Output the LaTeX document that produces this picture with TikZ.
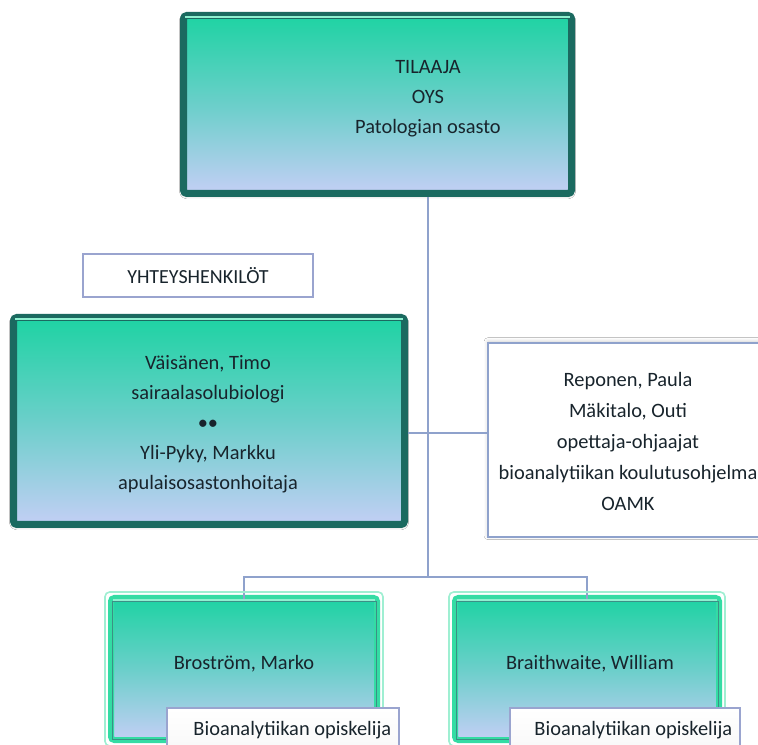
\documentclass[tikz,border=0pt]{standalone}
\usepackage{fontspec}
\setmainfont{Carlito}
\usetikzlibrary{shadows.blur}
\definecolor{frameDark}{HTML}{1B6A60}
\definecolor{gradTop}{HTML}{1ED3A3}
\definecolor{gradMid}{HTML}{6BCFCA}
\definecolor{gradBot}{HTML}{C3CFF5}
\definecolor{glowC}{HTML}{34DCA4}
\definecolor{glowSoft}{HTML}{9FEFD2}
\definecolor{lineC}{HTML}{8FA2CC}
\definecolor{lblBorder}{HTML}{9AA4CF}
\definecolor{textC}{HTML}{18242C}
\definecolor{hlC}{HTML}{8FF0D0}
\definecolor{bevelC}{HTML}{3C8F86}
\begin{document}
\begin{tikzpicture}[x=0.75pt,y=-0.75pt,
  every node/.style={font=\fontsize{15.3}{22.5}\selectfont, text=textC},
  bigbox/.style={draw=frameDark, line width=5.25pt, top color=gradTop, bottom color=gradBot, middle color=gradMid, rounded corners=2.5pt, inner sep=0pt,
     blur shadow={shadow xshift=0pt, shadow yshift=-1pt, shadow blur radius=3pt, shadow opacity=45}},
  glowbox/.style={draw=glowC, line width=4.5pt, top color=gradTop, bottom color=gradBot, middle color=gradMid, rounded corners=2.5pt, inner sep=0pt},
  glowedge/.style={draw=glowSoft, line width=1.2pt, rounded corners=3.5pt},
  whitebox/.style={draw=lineC, line width=1.5pt, fill=white, inner sep=0pt,
     blur shadow={shadow xshift=0pt, shadow yshift=1pt, shadow blur radius=3pt, shadow opacity=20}},
  tagbox/.style={draw=lblBorder, line width=0.9pt, fill=white, inner sep=0pt},
  lblbox/.style={draw=lblBorder, line width=0.9pt, top color=white, bottom color=black!4, inner sep=0pt},
  txt/.style={align=center},
  smalltxt/.style={font=\fontsize{15.3}{18}\selectfont},
  conn/.style={draw=lineC, line width=1.4pt},
  hl/.style={draw=hlC, line width=1.2pt},
  bevel/.style={draw=bevelC, line width=0.6pt}
]
\clip (0,0) rectangle (758,745);
\fill[white] (0,0) rectangle (758,745);

% junction coordinates
\coordinate (jt) at (428,577);
\coordinate (hline) at (428,433);

% top box and trunk
\node[bigbox, minimum width=291pt, minimum height=133.5pt] (tilaaja) at (377.5,104.5) {};
\draw[conn] (tilaaja.south -| jt) -- (jt);

% side boxes
\node[whitebox, minimum width=210pt, minimum height=145.5pt] (reponen) at (628,440) {};
\node[bigbox, minimum width=293.25pt, minimum height=155.25pt] (vaisanen) at (209,421) {};
\draw[conn] (vaisanen.east |- hline) -- (reponen.west |- hline);

% bottom boxes
\node[glowbox, minimum width=199.5pt, minimum height=106.5pt] (marko) at (244,669) {};
\node[glowbox, minimum width=198pt, minimum height=106.5pt] (william) at (587,669) {};
\draw[conn] ([yshift=-3]marko.north) -- (marko.north |- jt) -- (william.north |- jt) -- ([yshift=-3]william.north);
\draw[glowedge] ([shift={(-3,-3)}]marko.north west) rectangle ([shift={(3,3)}]marko.south east);
\draw[glowedge] ([shift={(-3,-3)}]william.north west) rectangle ([shift={(3,3)}]william.south east);

% bevel highlights
\draw[hl] ([shift={(5,5)}]tilaaja.north west) -- ([shift={(-5,5)}]tilaaja.north east);
\draw[hl] ([shift={(5,5)}]vaisanen.north west) -- ([shift={(-5,5)}]vaisanen.north east);
\draw[hl] ([shift={(5,5)}]marko.north west) -- ([shift={(-5,5)}]marko.north east);
\draw[hl] ([shift={(5,5)}]william.north west) -- ([shift={(-5,5)}]william.north east);
\draw[bevel] ([shift={(4,6)}]marko.north west) rectangle ([shift={(-4,-4)}]marko.south east);
\draw[bevel] ([shift={(4,6)}]william.north west) rectangle ([shift={(-4,-4)}]william.south east);

% texts
\node[txt] (tilaajaT) at (428,99) {TILAAJA\\OYS\\Patologian osasto};
\node[txt] (vaisanenT) at (208,424) {Väisänen, Timo\\sairaalasolubiologi\\\textbullet\textbullet\\Yli-Pyky, Markku\\apulaisosastonhoitaja};
\node[txt, font=\fontsize{15.3}{23.25}\selectfont] (reponenT) at (628,441) {Reponen, Paula\\Mäkitalo, Outi\\opettaja-ohjaajat\\bioanalytiikan koulutusohjelma\\OAMK};

\node[tagbox, minimum width=172.5pt, minimum height=32.25pt, font=\fontsize{15}{18}\selectfont] (yht) at (198,275.5) {YHTEYSHENKILÖT};

\node (markoT) at (244,664) {Broström, Marko};
\node (williamT) at (590,664) {Braithwaite, William};

\node[lblbox, minimum width=174pt, minimum height=46.5pt] (lab1) at (283,739) {};
\node[lblbox, minimum width=172.5pt, minimum height=46.5pt] (lab2) at (625,739) {};
\node[smalltxt, anchor=east] (lab1T) at (396,730) {Bioanalytiikan opiskelija};
\node[smalltxt, anchor=east] (lab2T) at (737,730) {Bioanalytiikan opiskelija};
\end{tikzpicture}
\end{document}
